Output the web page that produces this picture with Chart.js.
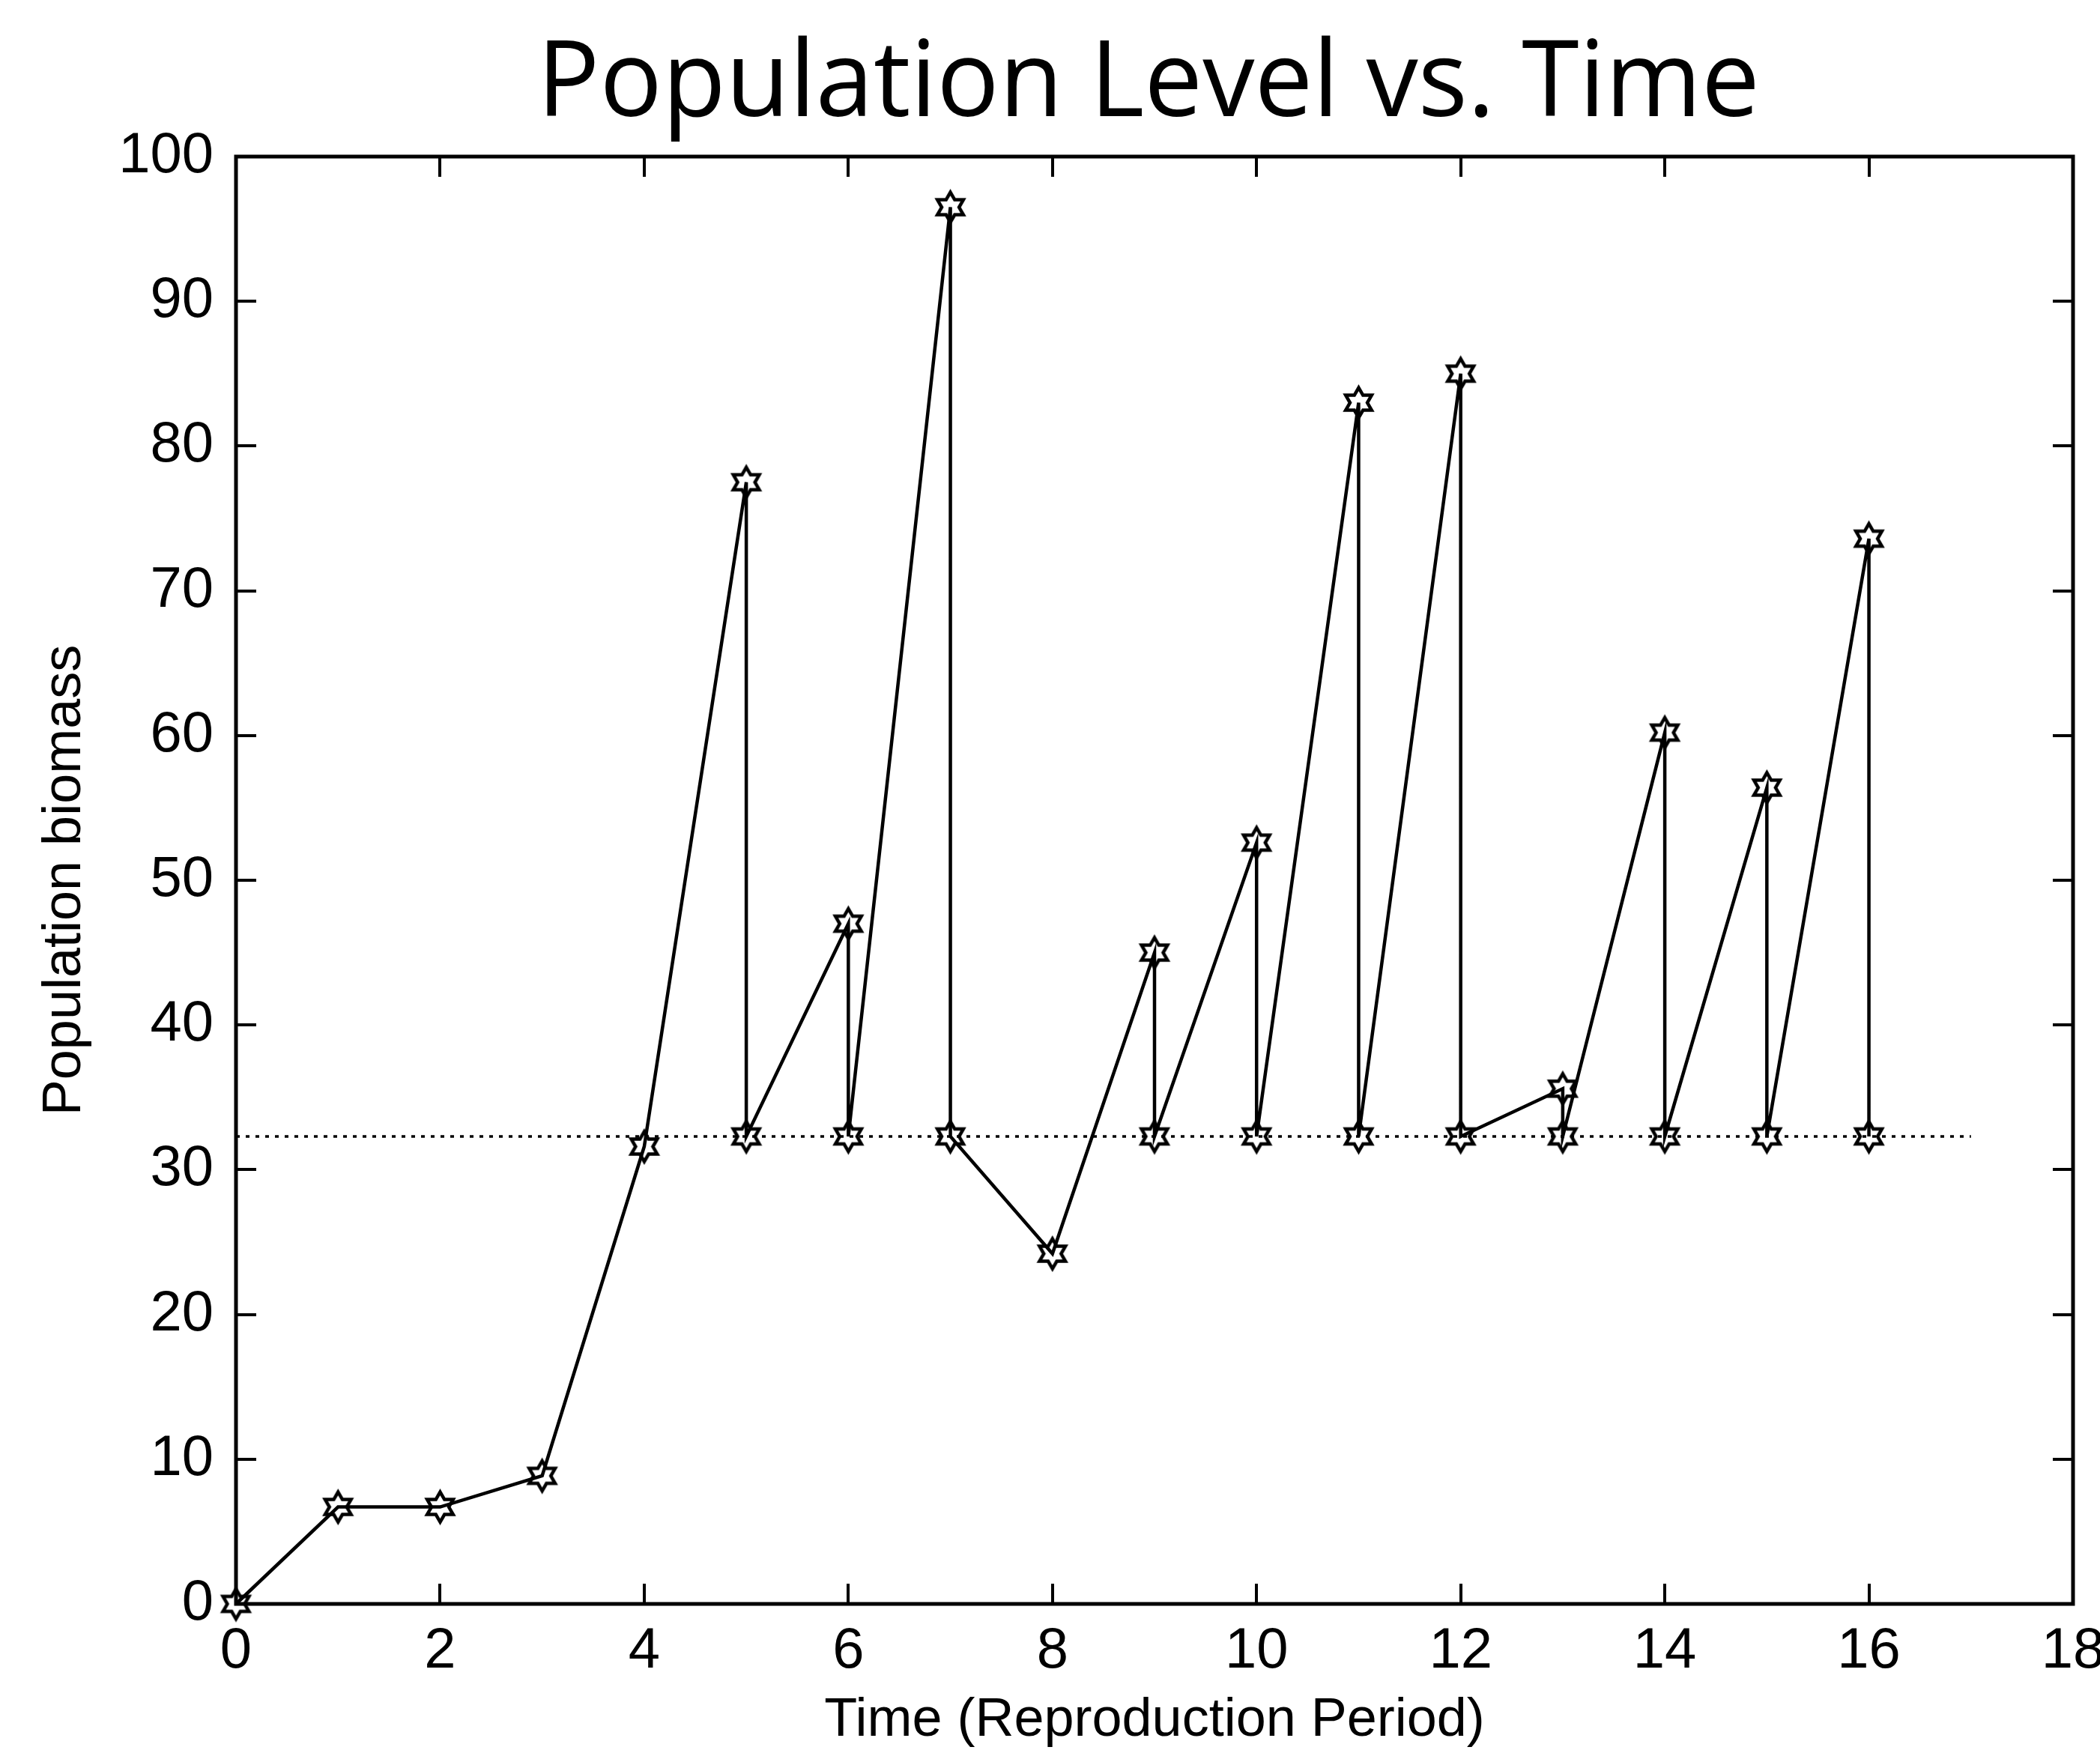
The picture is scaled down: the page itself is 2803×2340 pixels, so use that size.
<!DOCTYPE html>
<html>
<head>
<meta charset="utf-8">
<script src="https://cdn.jsdelivr.net/npm/chart.js@4.4.0/dist/chart.umd.min.js"></script>
<style>
  html, body { margin: 0; padding: 0; background: #fff; }
  #chart { display: block; }
</style>
</head>
<body>
<canvas id="chart" width="2803" height="2340"></canvas>
<script>
// time steps (duplicates = harvest drop at same period)
const times = [0, 1, 2, 3, 4, 5, 5, 6, 6, 7, 7, 8, 9, 9, 10, 10, 11, 11, 12, 12, 13, 13, 14, 14, 15, 15, 16, 16];
const biomass = [0, 6.7, 6.7, 8.85, 31.6, 77.5, 32.3, 47.0, 32.3, 96.5, 32.3, 24.2, 45.0, 32.3, 52.6, 32.3, 83.0, 32.3, 85.0, 32.3, 35.6, 32.3, 60.2, 32.3, 56.4, 32.3, 73.6, 32.3];
const thresholdTimes = [0, 17];
const thresholdLevel = [32.3, 32.3];
const xTickValues = [0, 2, 4, 6, 8, 10, 12, 14, 16, 18];
const yTickValues = [0, 10, 20, 30, 40, 50, 60, 70, 80, 90, 100];

const titleText = 'Population Level vs. Time';
const tickFont = '"Liberation Sans Narrow", "Liberation Sans", Arial, sans-serif';
const labelFont = '"Liberation Sans", Arial, sans-serif';

// hexagram marker (MATLAB 'h')
function makeHexagram(r, lw) {
    const size = Math.ceil(2 * r + lw * 2 + 2);
    const c = document.createElement('canvas');
    c.width = size;
    c.height = size;
    const g = c.getContext('2d');
    const cx = size / 2, cy = size / 2;
    g.strokeStyle = '#000';
    g.lineWidth = lw;
    g.lineJoin = 'miter';
    const pts = [];
    for (let i = 0; i < 12; i++) {
        const a = -Math.PI / 2 + i * Math.PI / 6;
        const rr = i % 2 === 0 ? r : r / Math.sqrt(3);
        pts.push([cx + rr * Math.cos(a), cy + rr * Math.sin(a)]);
    }
    g.beginPath();
    pts.forEach((p, i) => i === 0 ? g.moveTo(p[0], p[1]) : g.lineTo(p[0], p[1]));
    g.closePath();
    g.stroke();
    return c;
}
const hexMarker = makeHexagram(20, 4.5);

// box around the plot area with inward ticks on all four sides
const boxPlugin = {
    id: 'matlabBox',
    afterDatasetsDraw(chart) {
        const { ctx, chartArea: a, scales } = chart;
        const tickLen = 27;
        ctx.save();
        ctx.strokeStyle = '#000';
        ctx.lineWidth = 4;
        ctx.beginPath();
        scales.x.ticks.forEach(t => {
            const px = Math.round(scales.x.getPixelForValue(t.value));
            ctx.moveTo(px, a.bottom);
            ctx.lineTo(px, a.bottom - tickLen);
            ctx.moveTo(px, a.top);
            ctx.lineTo(px, a.top + tickLen);
        });
        scales.y.ticks.forEach(t => {
            const py = Math.round(scales.y.getPixelForValue(t.value));
            ctx.moveTo(a.left, py);
            ctx.lineTo(a.left + tickLen, py);
            ctx.moveTo(a.right, py);
            ctx.lineTo(a.right - tickLen, py);
        });
        ctx.stroke();
        ctx.lineWidth = 5;
        ctx.strokeRect(a.left, a.top, a.right - a.left, a.bottom - a.top);
        ctx.restore();
    }
};

// slide title, stretched to the width it has in the picture
const titlePlugin = {
    id: 'slideTitle',
    afterDraw(chart) {
        const ctx = chart.ctx;
        ctx.save();
        ctx.font = '141px "Open Sans", sans-serif';
        const w = ctx.measureText(titleText).width;
        ctx.translate(1533, 155);
        ctx.scale(1632 / w, 1);
        ctx.fillStyle = '#000';
        ctx.textAlign = 'center';
        ctx.textBaseline = 'alphabetic';
        ctx.fillText(titleText, 0, 0);
        ctx.restore();
    }
};

new Chart(document.getElementById('chart'), {
    type: 'line',
    data: {
        datasets: [
            {
                label: 'Population',
                data: times.map((t, i) => ({ x: t, y: biomass[i] })),
                borderColor: '#000',
                borderWidth: 4.5,
                tension: 0,
                pointStyle: hexMarker,
                pointRadius: 20,
                pointHoverRadius: 20,
                clip: false
            },
            {
                label: 'Threshold',
                data: thresholdTimes.map((t, i) => ({ x: t, y: thresholdLevel[i] })),
                borderColor: '#000',
                borderWidth: 3.5,
                borderDash: [5, 8],
                pointRadius: 0,
                tension: 0
            }
        ]
    },
    options: {
        responsive: false,
        animation: false,
        devicePixelRatio: 1,
        layout: { padding: { left: 0, right: 36, top: 209, bottom: 0 } },
        plugins: {
            legend: { display: false },
            tooltip: { enabled: false },
            title: { display: false }
        },
        scales: {
            x: {
                type: 'linear',
                min: 0,
                max: 18,
                afterBuildTicks: s => { s.ticks = xTickValues.map(v => ({ value: v })); },
                afterFit: s => {
                    s.height = 199;
                    s.paddingLeft = 0;
                    s.paddingRight = 0;
                },
                grid: { display: false, drawTicks: false },
                border: { display: false },
                ticks: {
                    color: '#000',
                    padding: 18,
                    maxRotation: 0,
                    autoSkip: false,
                    font: { family: tickFont, size: 76 }
                },
                title: {
                    display: true,
                    text: 'Time (Reproduction Period)',
                    color: '#000',
                    font: { family: labelFont, size: 72 },
                    padding: { top: 0, bottom: 0 }
                }
            },
            y: {
                type: 'linear',
                min: 0,
                max: 100,
                afterBuildTicks: s => { s.ticks = yTickValues.map(v => ({ value: v })); },
                afterFit: s => {
                    s.width = 315;
                    s.paddingTop = 0;
                    s.paddingBottom = 0;
                },
                grid: { display: false, drawTicks: false },
                border: { display: false },
                ticks: {
                    color: '#000',
                    padding: 30,
                    autoSkip: false,
                    font: { family: tickFont, size: 76 }
                },
                title: {
                    display: true,
                    text: 'Population biomass',
                    color: '#000',
                    font: { family: labelFont, size: 72 },
                    padding: { top: 44, bottom: 0 }
                }
            }
        }
    },
    plugins: [boxPlugin, titlePlugin]
});
</script>
</body>
</html>
